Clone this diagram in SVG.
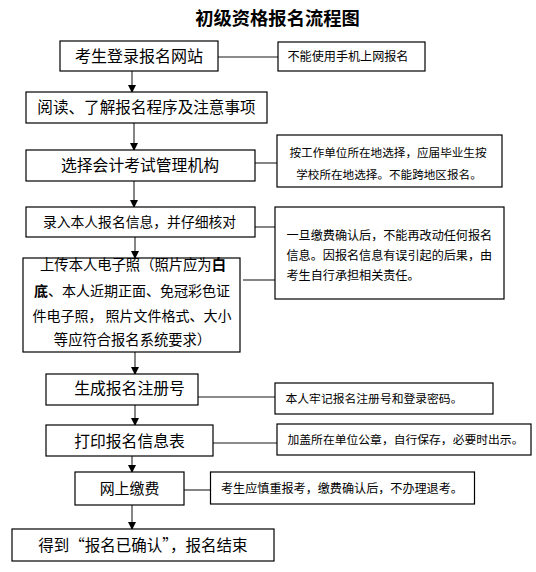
<svg xmlns="http://www.w3.org/2000/svg" width="536" height="572" viewBox="0 0 536 572">
<defs>
<style>
.box{fill:#fff;stroke:#000;stroke-width:1.2}
.t{font-family:"Noto Sans CJK SC","Noto Sans",sans-serif;fill:#000}
.m{text-anchor:middle}
.link{stroke:#666;stroke-width:1.6;fill:none}
.arr{stroke:#444;stroke-width:1.3;fill:none;marker-end:url(#ah)}
</style>
<marker id="ah" viewBox="0 0 8 8" refX="7" refY="4" markerWidth="8" markerHeight="8" markerUnits="userSpaceOnUse" orient="auto">
<path d="M0,0 L8,4 L0,8 Z" fill="#000"/>
</marker>
</defs>
<rect width="536" height="572" fill="#fff"/>
<text class="t m" x="277.5" y="24.8" font-size="18.3" font-weight="bold">初级资格报名流程图</text>

<g id="connectors">
<line class="arr" x1="132" y1="71" x2="132" y2="92"/>
<line class="arr" x1="134" y1="123" x2="134" y2="150"/>
<line class="arr" x1="134" y1="181" x2="134" y2="207"/>
<line class="arr" x1="135" y1="237" x2="135" y2="258"/>
<line class="arr" x1="135" y1="352" x2="135" y2="374"/>
<line class="arr" x1="135" y1="405" x2="135" y2="425"/>
<line class="arr" x1="132" y1="456" x2="132" y2="472"/>
<line class="arr" x1="132" y1="505" x2="132" y2="529"/>
<line class="link" x1="218" y1="57" x2="278" y2="57"/>
<line class="link" x1="255" y1="163" x2="277" y2="163"/>
<line class="link" x1="255" y1="227" x2="275" y2="227"/>
<line class="link" x1="243" y1="280" x2="275" y2="280"/>
<line class="link" x1="198" y1="397" x2="275" y2="397"/>
<line class="link" x1="213" y1="443" x2="277" y2="443"/>
<line class="link" x1="184" y1="490" x2="210" y2="490"/>
</g>

<g id="n1"><rect class="box" x="60" y="41" width="158" height="30"/><text class="t m" x="139" y="61.9" font-size="16">考生登录报名网站</text></g>
<g id="s1"><rect class="box" x="278" y="42" width="147" height="29"/><text class="t" x="287.5" y="61" font-size="12.1">不能使用手机上网报名</text></g>

<g id="n2"><rect class="box" x="26" y="92" width="241" height="31"/><text class="t m" x="146.5" y="113.3" font-size="15.6">阅读、了解报名程序及注意事项</text></g>

<g id="n3"><rect class="box" x="26" y="150" width="229" height="31"/><text class="t m" x="140" y="171.3" font-size="15.8">选择会计考试管理机构</text></g>
<g id="s3"><rect class="box" x="277" y="135" width="225" height="52"/>
<text class="t m" x="388" y="157.3" font-size="11.6">按工作单位所在地选择，应届毕业生按</text>
<text class="t m" x="389" y="179.3" font-size="11.6">学校所在地选择。不能跨地区报名。</text></g>

<g id="n4"><rect class="box" x="26" y="207" width="229" height="30"/><text class="t m" x="139.5" y="227.1" font-size="13.8">录入本人报名信息，并仔细核对</text></g>
<g id="s4"><rect class="box" x="275" y="207" width="229" height="92"/>
<text class="t" x="286.5" y="239.5" font-size="12.1">一旦缴费确认后，不能再改动任何报名</text>
<text class="t" x="286.5" y="259.5" font-size="12.1">信息。因报名信息有误引起的后果，由</text>
<text class="t" x="286.5" y="279.5" font-size="12.1">考生自行承担相关责任。</text></g>

<g id="n5"><rect class="box" x="23" y="258" width="217" height="94"/>
<text class="t m" x="133" y="270.3" font-size="14.3">上传本人电子照（照片应为<tspan font-weight="bold">白</tspan></text>
<text class="t m" x="132" y="296.2" font-size="14"><tspan font-weight="bold">底</tspan>、本人近期正面、免冠彩色证</text>
<text class="t m" x="132" y="321.2" font-size="14">件电子照， 照片文件格式、大小</text>
<text class="t m" x="132.5" y="345.2" font-size="14.3">等应符合报名系统要求）</text></g>

<g id="n6"><rect class="box" x="46" y="374" width="152" height="31"/><text class="t m" x="129.5" y="394.3" font-size="15.8">生成报名注册号</text></g>
<g id="s6"><rect class="box" x="275" y="383" width="218" height="31"/><text class="t" x="285.5" y="402.8" font-size="11.8">本人牢记报名注册号和登录密码。</text></g>

<g id="n7"><rect class="box" x="46" y="425" width="167" height="31"/><text class="t m" x="129.5" y="446.8" font-size="15.8">打印报名信息表</text></g>
<g id="s7"><rect class="box" x="277" y="424" width="254" height="31"/><text class="t" x="287.5" y="444.3" font-size="11.8">加盖所在单位公章，自行保存，必要时出示。</text></g>

<g id="n8"><rect class="box" x="75" y="472" width="109" height="33"/><text class="t m" x="129.5" y="493.5" font-size="14.9">网上缴费</text></g>
<g id="s8"><rect class="box" x="210.5" y="472" width="264" height="32"/><text class="t" x="221" y="492.5" font-size="12.1">考生应慎重报考，缴费确认后，不办理退考。</text></g>

<g id="n9"><rect class="box" x="12" y="529" width="262" height="32"/><text class="t m" x="143" y="550.7" font-size="15.5">得到“报名已确认”，报名结束</text></g>
</svg>
